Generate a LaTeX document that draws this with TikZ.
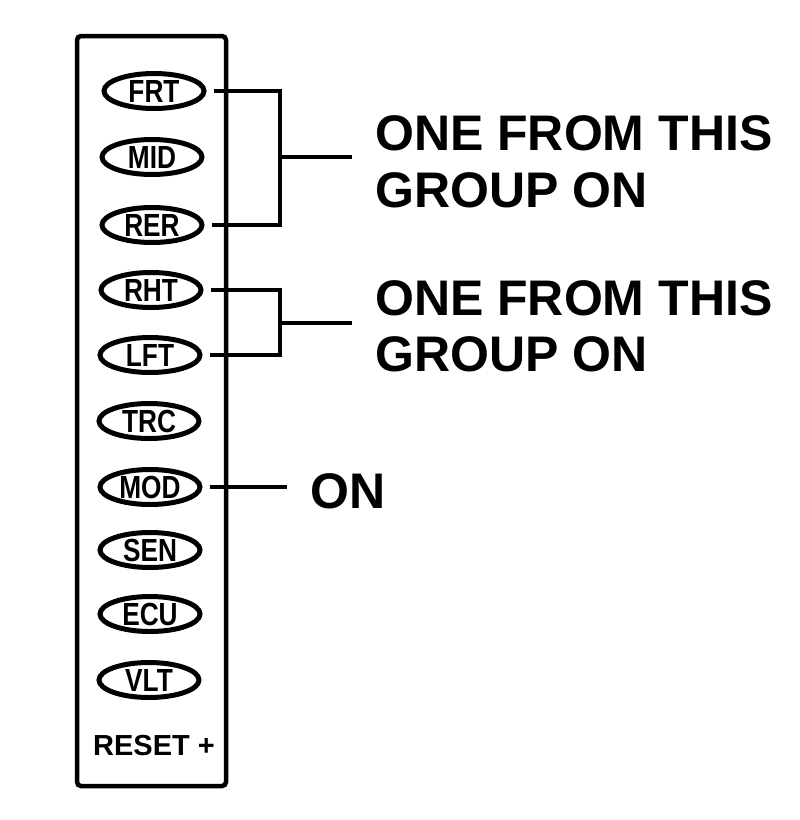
\documentclass[tikz,border=0pt]{standalone}
\usepackage{fontspec}
\usepackage{graphicx}
\setmainfont{Liberation Sans}
\usetikzlibrary{shapes.geometric}
\begin{document}
\begin{tikzpicture}[x=1pt,y=-1pt,
  btn/.style={ellipse, draw, line width=5pt, minimum width=100pt, minimum height=35pt, inner sep=0pt,
    font=\bfseries\fontsize{32}{32}\selectfont},
  wire/.style={line width=4.5pt},
  lbl/.style={font=\bfseries\fontsize{50}{57}\selectfont, anchor=base west, inner sep=0pt},
  small/.style={font=\bfseries\fontsize{29}{29}\selectfont, anchor=base west, inner sep=0pt}]
\useasboundingbox (0,0) rectangle (800,820);
\draw[line width=4.5pt, rounded corners=4pt] (77,36) rectangle (226,786);
\newcommand{\btnlab}[1]{\scalebox{0.82}[1]{#1}}
\node[btn] (frt) at (154,91)  {\btnlab{FRT}};
\node[btn] (mid) at (152,157) {\btnlab{MID}};
\node[btn] (rer) at (152,225) {\btnlab{RER}};
\node[btn] (rht) at (151,290) {\btnlab{RHT}};
\node[btn] (lft) at (150,355) {\btnlab{LFT}};
\node[btn] (trc) at (149,421) {\btnlab{TRC}};
\node[btn] (mod) at (150,487) {\btnlab{MOD}};
\node[btn] (sen) at (150,550) {\btnlab{SEN}};
\node[btn] (ecu) at (150,614) {\btnlab{ECU}};
\node[btn] (vlt) at (149,680) {\btnlab{VLT}};
\node[small] (reset) at (93,755) {RESET +};
% group 1
\coordinate (j1) at (280,157);
\coordinate (e1) at (352,157);
\draw[wire] ([xshift=7pt]frt.east) -| (j1) |- ([xshift=7pt]rer.east);
\draw[wire] (j1) -- (e1);
\node[lbl] (t1a) at (375,150) {ONE FROM THIS};
\node[lbl] (t1b) at (375,207) {GROUP ON};
% group 2
\coordinate (j2) at (280,323);
\coordinate (e2) at (352,323);
\draw[wire] ([xshift=7pt]rht.east) -| (j2) |- ([xshift=7pt]lft.east);
\draw[wire] (j2) -- (e2);
\node[lbl] (t2a) at (375,315) {ONE FROM THIS};
\node[lbl] (t2b) at (375,371) {GROUP ON};
% mod
\coordinate (e3) at (287,487);
\draw[wire] ([xshift=7pt]mod.east) -- (e3);
\node[lbl] (t3) at (310,508) {ON};
\end{tikzpicture}
\end{document}
